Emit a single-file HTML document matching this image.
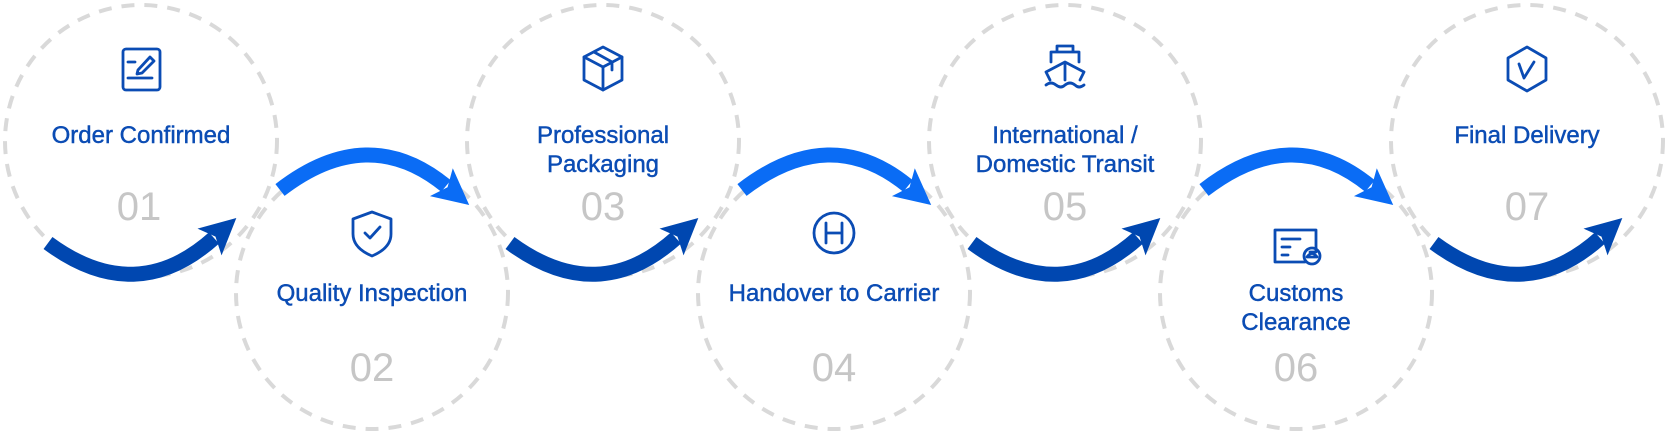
<!DOCTYPE html>
<html><head><meta charset="utf-8"><style>
html,body{margin:0;padding:0;background:#fff;width:1667px;height:436px;overflow:hidden}
svg{display:block}
.lb{font-family:"Liberation Sans",sans-serif;font-size:24px;fill:#0b4cb4;stroke:#0b4cb4;stroke-width:0.45;text-anchor:middle}
.nm{font-family:"Liberation Sans",sans-serif;font-size:40px;fill:#c6c6c6;text-anchor:middle}
.ic{fill:none;stroke:#0b4cb4;stroke-width:2.8;stroke-linecap:round;stroke-linejoin:round}
</style></head><body>
<svg width="1667" height="436" viewBox="0 0 1667 436">
<defs>
<marker id="hd" markerUnits="userSpaceOnUse" markerWidth="40" markerHeight="44" refX="6" refY="22" orient="auto">
<path d="M0,4 L36,22 L0,40 L8,22 Z" fill="#0047b0"/></marker>
<marker id="hl" markerUnits="userSpaceOnUse" markerWidth="40" markerHeight="44" refX="6" refY="22" orient="auto">
<path d="M0,4 L36,22 L0,40 L8,22 Z" fill="#0a6cf5"/></marker>
</defs>
<g fill="none" stroke="#d9d9d9" stroke-width="4" stroke-dasharray="13 10">
<circle cx="141" cy="141" r="136"/><circle cx="372" cy="293" r="136"/>
<circle cx="603" cy="141" r="136"/><circle cx="834" cy="293" r="136"/>
<circle cx="1065" cy="141" r="136"/><circle cx="1296" cy="293" r="136"/>
<circle cx="1527" cy="141" r="136"/>
</g>
<g fill="none" stroke="#0047b0" stroke-width="15" marker-end="url(#hd)">
<path d="M48,243 Q136,308 214,238"/>
<path d="M510,243 Q598,308 676,238"/>
<path d="M972,243 Q1060,308 1138,238"/>
<path d="M1434,243 Q1522,308 1600,238"/>
</g>
<g fill="none" stroke="#0a6cf5" stroke-width="15" marker-end="url(#hl)">
<path d="M280,190 Q368,122 446,186"/>
<path d="M742,190 Q830,122 908,186"/>
<path d="M1204,190 Q1292,122 1370,186"/>
</g>
<g class="ic">
<rect x="123" y="49" width="37" height="41" rx="3"/><line x1="128" y1="62" x2="135" y2="62"/><line x1="128" y1="78" x2="152" y2="78"/><path d="M138,70 L150,57 L154,61 L142,73 L137,74 Z"/>
<path d="M372,212 L391,219 L391,234 Q391,248 372,256 Q353,248 353,234 L353,219 Z"/><path d="M365,233 L370,238 L380,227"/>
<path d="M584,57 L603,47 L622,57 L622,80 L603,90 L584,80 Z"/><path d="M584,57 L603,67 L622,57 M603,67 L603,90 M594,52 L612,62 L612,70"/>
<circle cx="834" cy="233" r="20"/><path d="M826,223 L826,243 M842,223 L842,243 M826,233 L842,233"/>
<path d="M1057,46 L1073,46 L1073,52 M1057,52 L1057,46 M1051,52 L1079,52 L1079,62 M1051,52 L1051,62 M1046,72 L1065,62 L1084,72 L1080,80 M1046,72 L1050,80 M1065,62 L1065,80 M1046,85 Q1051,81 1056,85 Q1061,89 1065,85 Q1070,81 1075,85 Q1079,89 1084,85"/>
<path d="M1310,252 L1316,252 L1316,230 L1275,230 L1275,262 L1305,262 M1282,239 L1300,239 M1282,247 L1290,247 M1282,255 L1288,255"/><circle cx="1312" cy="256" r="8"/><path d="M1307,257 Q1312,250 1317,257 Z"/>
<path d="M1527,47 L1546,58 L1546,80 L1527,91 L1508,80 L1508,58 Z"/><path d="M1519,64 L1524,78 L1534,62"/>
</g>
<g class="lb">
<text x="141" y="143">Order Confirmed</text>
<text x="372" y="301">Quality Inspection</text>
<text x="603" y="143">Professional</text><text x="603" y="172">Packaging</text>
<text x="834" y="301">Handover to Carrier</text>
<text x="1065" y="143">International /</text><text x="1065" y="172">Domestic Transit</text>
<text x="1296" y="301">Customs</text><text x="1296" y="330">Clearance</text>
<text x="1527" y="143">Final Delivery</text>
</g>
<g class="nm">
<text x="139" y="220">01</text><text x="372" y="381">02</text><text x="603" y="220">03</text>
<text x="834" y="381">04</text><text x="1065" y="220">05</text><text x="1296" y="381">06</text><text x="1527" y="220">07</text>
</g>
</svg>
</body></html>
